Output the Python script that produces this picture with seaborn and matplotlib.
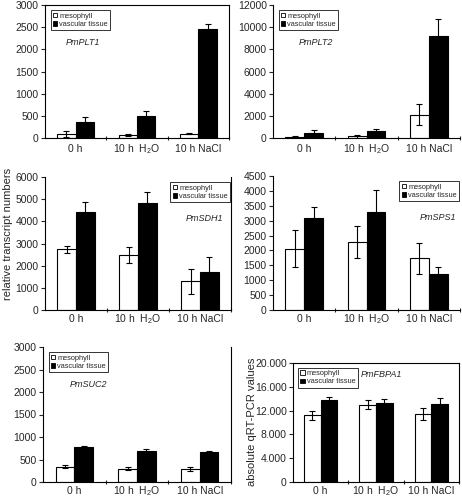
import numpy as np
import pandas as pd
import matplotlib
matplotlib.use("Agg")
import matplotlib.pyplot as plt
import seaborn as sns
from matplotlib.ticker import FuncFormatter, FixedLocator
from matplotlib.patches import Patch

sns.set_style("white")
plt.rcParams['font.family'] = ['Liberation Sans', 'DejaVu Sans']
plt.rcParams['mathtext.fontset'] = 'custom'
plt.rcParams['mathtext.rm'] = 'Liberation Sans'

conditions = ["0 h", "10 h  H$_2$O", "10 h NaCl"]
tissues = ["mesophyll", "vascular tissue"]

plt1_meso = [90, 60, 100]
plt1_meso_err = [60, 20, 20]
plt1_vasc = [370, 490, 2450]
plt1_vasc_err = [100, 110, 120]

plt2_meso = [130, 150, 2100]
plt2_meso_err = [60, 120, 950]
plt2_vasc = [480, 600, 9200]
plt2_vasc_err = [200, 200, 1550]

sdh1_meso = [2730, 2480, 1290]
sdh1_meso_err = [170, 340, 560]
sdh1_vasc = [4400, 4830, 1720]
sdh1_vasc_err = [480, 480, 680]

sps1_meso = [2060, 2270, 1740]
sps1_meso_err = [620, 540, 520]
sps1_vasc = [3100, 3290, 1210]
sps1_vasc_err = [360, 740, 250]

suc2_meso = [340, 300, 290]
suc2_meso_err = [30, 30, 50]
suc2_vasc = [780, 690, 660]
suc2_vasc_err = [30, 50, 30]

fbpa1_meso = [11200, 13000, 11500]
fbpa1_meso_err = [700, 700, 1000]
fbpa1_vasc = [13800, 13200, 13100]
fbpa1_vasc_err = [500, 700, 1100]

W, H = 462, 499
fig = plt.figure(figsize=(W / 100, H / 100), dpi=100)


def px_axes(x0, x1, y0, y1):
    return fig.add_axes([x0 / W, 1 - y1 / H, (x1 - x0) / W, (y1 - y0) / H])


def panel(ax, gene, meso, meso_err, vasc, vasc_err, ymax, step,
          leg_loc, leg_anchor, txt_xy, txt_ha="left", box=False, right=False,
          fmt=None, xpad=10):
    df = pd.DataFrame({
        "condition": conditions * 2,
        "tissue": [tissues[0]] * 3 + [tissues[1]] * 3,
        "value": meso + vasc,
    })
    sns.barplot(data=df, x="condition", y="value", hue="tissue",
                palette=["white", "black"], edgecolor="black", linewidth=0.8,
                width=0.6, errorbar=None, legend=False, ax=ax)
    errs = meso_err + vasc_err
    vals = meso + vasc
    for p, v, e in zip(ax.patches, vals, errs):
        cx = p.get_x() + p.get_width() / 2
        ax.errorbar(cx, v, yerr=e, fmt="none", ecolor="black",
                    elinewidth=0.8, capsize=2.5, capthick=0.8, zorder=5)
    ax.set_xlim(-0.5, 2.5)
    ax.set_ylim(0, ymax)
    ax.set_yticks(np.arange(0, ymax + 1, step))
    if fmt is not None:
        ax.yaxis.set_major_formatter(FuncFormatter(fmt))
    ax.set_xlabel("")
    ax.set_ylabel("")
    ax.xaxis.set_minor_locator(FixedLocator([0.5, 1.5, 2.5]))
    ax.tick_params(axis="x", which="major", length=0, labelsize=7.5, pad=xpad)
    for lbl in ax.get_xticklabels():
        lbl.set_verticalalignment("baseline")
    ax.tick_params(axis="x", which="minor", length=3, width=0.8,
                   direction="inout", bottom=True)
    ax.tick_params(axis="y", length=3, width=0.8, direction="out",
                   left=True, labelsize=7.5, pad=1.5)
    for s in ["left", "bottom"]:
        ax.spines[s].set_color("black")
        ax.spines[s].set_linewidth(0.8)
    ax.spines["top"].set_visible(box)
    ax.spines["right"].set_visible(box or right)
    for s in ["top", "right"]:
        ax.spines[s].set_color("black")
        ax.spines[s].set_linewidth(0.8)
    handles = [Patch(facecolor="white", edgecolor="black", linewidth=0.6),
               Patch(facecolor="black", edgecolor="black", linewidth=0.6)]
    leg = ax.legend(handles, tissues, loc=leg_loc, bbox_to_anchor=leg_anchor,
                    fontsize=5.3, handlelength=0.6, handleheight=0.6,
                    handletextpad=0.3, borderpad=0.3, labelspacing=0.2,
                    borderaxespad=0, frameon=True, fancybox=False)
    leg.get_frame().set_edgecolor("black")
    leg.get_frame().set_linewidth(0.7)
    ax.text(txt_xy[0], txt_xy[1], gene, transform=ax.transAxes, ha=txt_ha,
            va="center", fontsize=6.5, style="italic")


ax1 = px_axes(45, 229, 5, 138)
panel(ax1, "PmPLT1", plt1_meso, plt1_meso_err, plt1_vasc, plt1_vasc_err,
      3000, 500, "upper left", (0.03, 0.96), (0.11, 0.72), box=True)

ax2 = px_axes(273, 460, 5, 138)
panel(ax2, "PmPLT2", plt2_meso, plt2_meso_err, plt2_vasc, plt2_vasc_err,
      12000, 2000, "upper left", (0.03, 0.96), (0.14, 0.72))

ax3 = px_axes(45, 231, 177, 310)
panel(ax3, "PmSDH1", sdh1_meso, sdh1_meso_err, sdh1_vasc, sdh1_vasc_err,
      6000, 1000, "upper right", (0.995, 0.96), (0.96, 0.69), txt_ha="right",
      right=True, xpad=9)

ax4 = px_axes(273, 460, 176, 310)
panel(ax4, "PmSPS1", sps1_meso, sps1_meso_err, sps1_vasc, sps1_vasc_err,
      4500, 500, "upper right", (0.995, 0.96), (0.98, 0.69), txt_ha="right",
      xpad=9)

ax5 = px_axes(43, 231, 347, 482)
panel(ax5, "PmSUC2", suc2_meso, suc2_meso_err, suc2_vasc, suc2_vasc_err,
      3000, 500, "upper left", (0.03, 0.96), (0.14, 0.72), right=True,
      xpad=9)

ax6 = px_axes(293, 459, 363, 482)
panel(ax6, "PmFBPA1", fbpa1_meso, fbpa1_meso_err, fbpa1_vasc, fbpa1_vasc_err,
      20000, 4000, "upper left", (0.03, 0.96), (0.41, 0.9), box=True,
      fmt=lambda v, pos: "0" if v == 0 else f"{int(v):,}".replace(",", "."),
      xpad=9)

fig.text(8 / W, 1 - 234 / H, "relative transcript numbers", rotation=90,
         ha="center", va="center", fontsize=8)
fig.text(252 / W, 1 - 422 / H, "absolute qRT-PCR values", rotation=90,
         ha="center", va="center", fontsize=8)

fig.savefig("out.png", dpi=100)
